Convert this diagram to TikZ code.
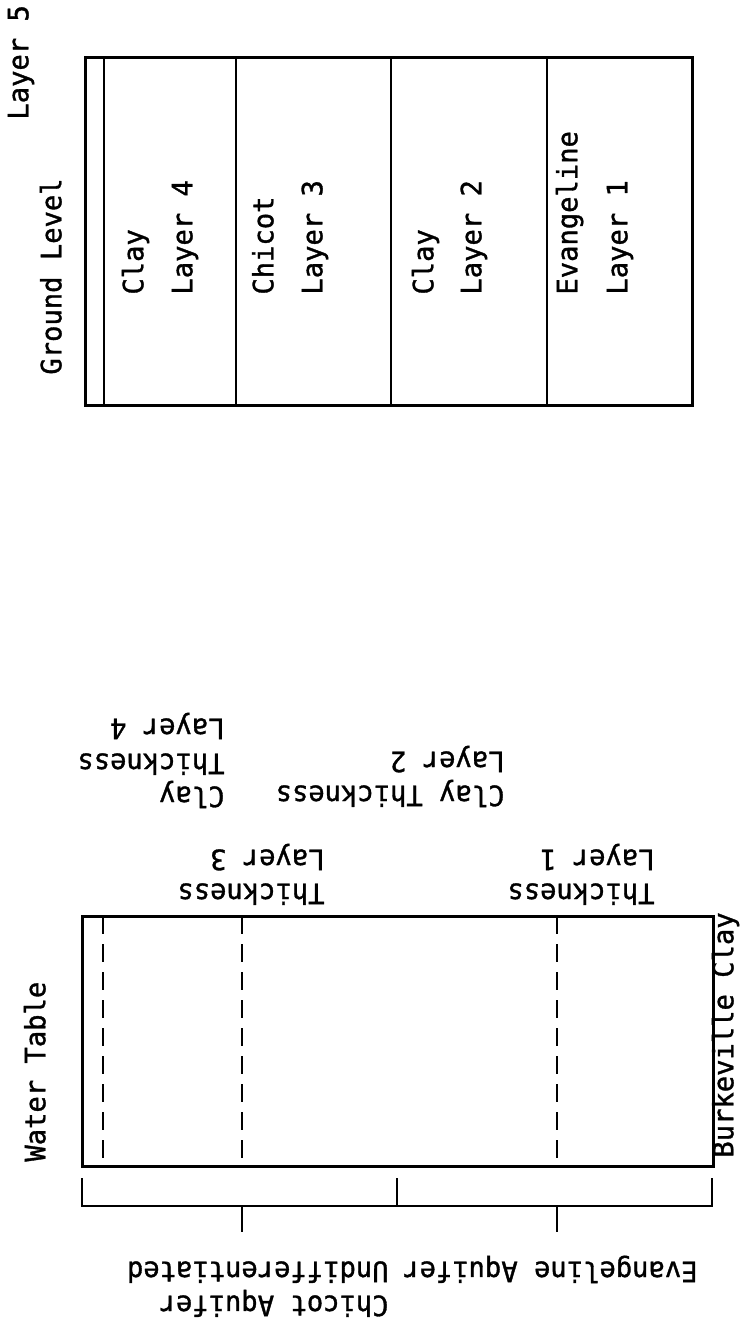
\documentclass[tikz,border=0pt]{standalone}
\usepackage{fontspec}
\usepackage{tikz}
\newfontfamily\scanfont[FakeStretch=0.97, FakeBold=1.2]{DejaVu Sans Mono}

\begin{document}
\begin{tikzpicture}[
  x=0.5pt, y=-0.5pt,
  lbl/.style={font=\scanfont\fontsize{14}{17}\selectfont, inner sep=0pt},
  up/.style={lbl, rotate=90, anchor=mid west},
  flip/.style={lbl, rotate=180, anchor=mid west},
  edge/.style={line width=1.5pt},
  divider/.style={line width=1pt},
  gap/.style={line width=1pt, dash pattern=on 9pt off 5pt},
]
\useasboundingbox (0,0) rectangle (741,1318);

% Upper column: layers from ground level down
\draw[edge] (85,57) rectangle (692,405);
\draw[divider] (104,57) -- (104,405);
\foreach \x in {236,391,547}
  \draw[divider] (\x,57) -- (\x,405);

\node[up] (layerfive) at (24,120) {Layer 5};
\node[up] (ground) at (57,375) {Ground Level};

\node[up] (clayfour) at (139,295) {Clay};
\node[up] (layerfour) at (188,295) {Layer 4};
\node[up] (chicot) at (269,295) {Chicot};
\node[up] (layerthree) at (318,295) {Layer 3};
\node[up] (claytwo) at (429,295) {Clay};
\node[up] (layertwo) at (477,295) {Layer 2};
\node[up] (evang) at (573,295) {Evangeline};
\node[up] (layerone) at (623,295) {Layer 1};

% Thickness labels (upside down)
\node[flip] (thkfoura) at (225,791) {Clay};
\node[flip] (thkfourb) at (225,758) {Thickness};
\node[flip] (thkfourc) at (225,723) {Layer 4};
\node[flip] (thktwoa) at (505,790) {Clay Thickness};
\node[flip] (thktwob) at (505,756) {Layer 2};
\node[flip] (thkthreea) at (325,888) {Thickness};
\node[flip] (thkthreeb) at (325,854) {Layer 3};
\node[flip] (thkonea) at (655,888) {Thickness};
\node[flip] (thkoneb) at (655,854) {Layer 1};

% Lower column: aquifer section
\draw[edge] (82,916) rectangle (713,1166);
\foreach \x in {103,242,557}
  \draw[gap] (\x,916) -- (\x,1166);

\node[up] (water) at (41,1162) {Water Table};
\node[up] (burk) at (729,1158) {Burkeville Clay};

% Aquifer brackets
\draw[divider] (82,1178) -- (82,1206) -- (712,1206) -- (712,1178);
\draw[divider] (397,1178) -- (397,1206);
\draw[divider] (242,1206) -- (242,1232);
\draw[divider] (557,1206) -- (557,1232);

\node[flip] (evaq) at (698,1266) {Evangeline Aquifer};
\node[flip] (chaqa) at (389,1300) {Chicot Aquifer};
\node[flip] (chaqb) at (389,1266) {Undifferentiated};

\end{tikzpicture}
\end{document}
